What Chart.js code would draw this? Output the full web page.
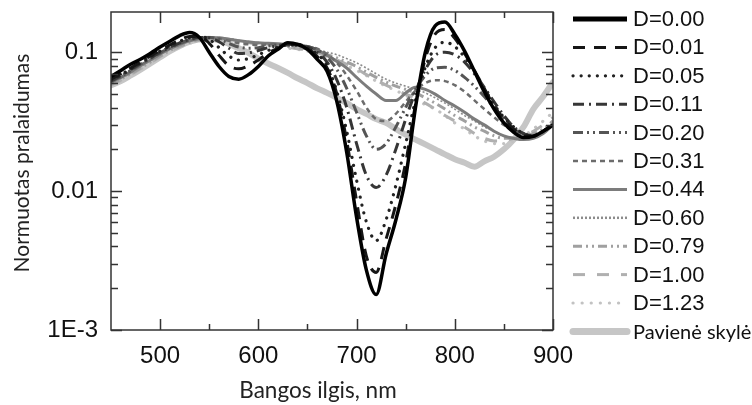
<!DOCTYPE html>
<html>
<head>
<meta charset="utf-8">
<script src="https://cdn.jsdelivr.net/npm/chart.js@4.4.1/dist/chart.umd.min.js"></script>
<style>
  html, body { margin: 0; padding: 0; background: #fff; }
</style>
</head>
<body>
<canvas id="chart" width="752" height="405"></canvas>
<script>
// --- data ---
const wavelengths = [450, 460, 470, 480, 490, 500, 510, 520, 530, 540, 550, 560, 570, 580, 590, 600,
  610, 620, 630, 640, 650, 660, 670, 680, 690, 700, 710, 720, 730, 740, 750, 760, 770, 780, 790, 800,
  810, 820, 830, 840, 850, 860, 870, 880, 890, 900];

const d000 = [.067, .074, .082, .089, .098, .109, .120, .132, .139, .128, .100, .079, .067, .064, .069, .079,
  .094, .105, .117, .114, .105, .089, .073, .044, .019, .0065, .0027, .0018, .0035, .0062, .0125, .040, .100, .155, .165, .135,
  .102, .073, .052, .039, .031, .0265, .0243, .0248, .027, .030];
const d001 = [.064, .070, .077, .085, .094, .103, .113, .123, .130, .130, .116, .095, .080, .076, .080, .088,
  .099, .107, .114, .114, .107, .093, .077, .050, .023, .0085, .0034, .0026, .0045, .0080, .016, .042, .090, .135, .146, .126,
  .098, .074, .055, .041, .033, .028, .025, .025, .027, .030];
const d005 = [.063, .069, .076, .084, .093, .102, .111, .120, .127, .130, .124, .108, .094, .088, .090, .096,
  .103, .109, .113, .113, .108, .097, .080, .052, .027, .012, .0060, .0044, .0062, .011, .022, .045, .078, .108, .118, .110,
  .092, .072, .055, .042, .034, .029, .026, .025, .027, .030];
const d011 = [.062, .068, .075, .083, .091, .100, .109, .117, .124, .128, .127, .119, .107, .098, .099, .103,
  .108, .111, .113, .112, .109, .100, .085, .063, .040, .022, .013, .0106, .013, .020, .033, .052, .075, .095, .100, .096,
  .085, .070, .056, .044, .035, .029, .026, .025, .027, .030];
const d020 = [.062, .067, .074, .082, .090, .099, .108, .116, .123, .127, .128, .124, .116, .109, .107, .108,
  .111, .113, .114, .113, .110, .104, .092, .075, .055, .037, .025, .020, .022, .029, .040, .054, .068, .077, .078, .074,
  .066, .057, .048, .040, .033, .028, .026, .025, .027, .030];
const d031 = [.061, .066, .073, .081, .089, .098, .107, .115, .122, .126, .128, .126, .121, .116, .114, .113,
  .114, .114, .114, .113, .110, .106, .097, .084, .068, .053, .040, .033, .032, .036, .044, .053, .060, .063, .062, .058,
  .052, .045, .039, .034, .030, .027, .025, .025, .027, .030];
const d044 = [.061, .066, .072, .080, .088, .097, .106, .114, .121, .125, .127, .127, .124, .121, .119, .117,
  .116, .115, .114, .112, .110, .104, .095, .086, .077, .066, .057, .050, .045, .045, .051, .056, .054, .050, .045, .041,
  .037, .033, .030, .027, .025, .024, .0235, .024, .026, .030];
const d060 = [.060, .065, .071, .079, .087, .096, .105, .113, .120, .125, .127, .127, .125, .122, .119, .117,
  .115, .114, .112, .110, .108, .104, .100, .096, .090, .084, .077, .070, .064, .060, .057, .054, .051, .047, .043, .039,
  .035, .032, .029, .027, .025, .024, .024, .025, .027, .031];
const d079 = [.059, .064, .070, .077, .085, .094, .103, .111, .118, .123, .126, .126, .124, .121, .118, .116,
  .114, .112, .110, .108, .106, .101, .096, .091, .085, .079, .072, .066, .061, .057, .054, .051, .047, .043, .039, .035,
  .032, .029, .027, .025, .024, .024, .025, .026, .028, .032];
const d100 = [.058, .063, .069, .076, .084, .093, .102, .110, .117, .122, .125, .125, .123, .120, .117, .115,
  .113, .111, .109, .106, .104, .099, .094, .088, .082, .076, .069, .063, .058, .054, .050, .047, .043, .039, .035, .032,
  .029, .026, .024, .023, .023, .024, .025, .027, .030, .034];
const d123 = [.057, .062, .068, .075, .083, .092, .101, .109, .116, .121, .124, .124, .122, .119, .116, .114,
  .112, .110, .107, .105, .102, .097, .092, .086, .080, .074, .068, .062, .057, .053, .049, .045, .042, .039, .035, .031,
  .028, .025, .023, .022, .022, .023, .025, .028, .032, .037];
const singleHole = [.058, .062, .068, .075, .083, .092, .102, .111, .119, .124, .125, .122, .115, .107, .099, .090,
  .083, .077, .071, .065, .060, .055, .051, .047, .043, .039, .036, .033, .031, .028, .0255, .0235, .0217, .020, .0184, .017,
  .016, .015, .0164, .0177, .020, .0235, .029, .039, .048, .061];

const seriesLabels = ["D=0.00", "D=0.01", "D=0.05", "D=0.11", "D=0.20", "D=0.31", "D=0.44",
  "D=0.60", "D=0.79", "D=1.00", "D=1.23", "Pavienė skylė"];
const seriesValues = [d000, d001, d005, d011, d020, d031, d044, d060, d079, d100, d123, singleHole];

const xMajorTicks = [500, 600, 700, 800, 900];
const xMinorTicks = [550, 650, 750, 850];
const yTickValues = [0.001, 0.01, 0.1];
const yTickLabels = ["1E-3", "0.01", "0.1"];

// --- line styles (grey ramp, dash patterns like the original legend) ---
const styles = [
  { color: "#000000", width: 3.5, dash: [], cap: "butt" },
  { color: "#161616", width: 3, dash: [12, 9], cap: "butt" },
  { color: "#222222", width: 3.2, dash: [0.1, 8], cap: "round" },
  { color: "#363636", width: 3, dash: [11, 5, 2, 5], cap: "butt" },
  { color: "#555555", width: 3, dash: [10, 4, 2, 4, 2, 4], cap: "butt" },
  { color: "#6c6c6c", width: 2.5, dash: [5, 4], cap: "butt" },
  { color: "#7c7c7c", width: 3, dash: [], cap: "butt" },
  { color: "#8c8c8c", width: 1.6, dash: [2, 2], cap: "butt" },
  { color: "#a0a0a0", width: 3, dash: [9, 4, 2, 4, 2, 4], cap: "butt" },
  { color: "#b0b0b0", width: 3, dash: [12, 12], cap: "butt" },
  { color: "#c2c2c2", width: 3.2, dash: [0.1, 9], cap: "round" },
  { color: "#c6c6c6", width: 6, dash: [], cap: "round" },
];

const datasets = seriesValues.map((vals, i) => ({
  label: seriesLabels[i],
  data: wavelengths.map((w, k) => ({ x: w, y: vals[k] })),
  borderColor: styles[i].color,
  borderWidth: styles[i].width,
  borderDash: styles[i].dash,
  borderCapStyle: styles[i].cap,
  pointRadius: 0,
  fill: false,
  cubicInterpolationMode: "monotone",
}));

// frame with inward ticks on all four sides
const frameTicks = {
  id: "frameTicks",
  afterDatasetsDraw(chart) {
    const { ctx, chartArea: a, scales } = chart;
    const x = scales.x, y = scales.y;
    ctx.save();
    ctx.strokeStyle = "#333";
    ctx.lineWidth = 1.5;
    ctx.strokeRect(a.left, a.top, a.right - a.left, a.bottom - a.top);
    ctx.beginPath();
    const xt = (v, len) => {
      const p = Math.round(x.getPixelForValue(v)) + 0.5;
      ctx.moveTo(p, a.bottom); ctx.lineTo(p, a.bottom - len);
      ctx.moveTo(p, a.top); ctx.lineTo(p, a.top + len);
    };
    xMajorTicks.forEach(v => xt(v, 11));
    xMinorTicks.forEach(v => xt(v, 6));
    const yt = (v, len) => {
      const p = Math.round(y.getPixelForValue(v)) + 0.5;
      if (p < a.top || p > a.bottom + 1) return;
      ctx.moveTo(a.left, p); ctx.lineTo(a.left + len, p);
      ctx.moveTo(a.right, p); ctx.lineTo(a.right - len, p);
    };
    yTickValues.forEach(v => {
      yt(v, 11);
      for (let k = 2; k <= 9; k++) yt(v * k, 7);
    });
    ctx.stroke();
    ctx.restore();
  },
  afterDraw(chart) {
    const { ctx } = chart;
    ctx.save();
    // axis titles
    ctx.fillStyle = "#222";
    ctx.textAlign = "center";
    ctx.textBaseline = "middle";
    ctx.font = "22.5px Lato, 'Open Sans', sans-serif";
    ctx.fillText("Bangos ilgis, nm", 318, 391);
    ctx.font = "21px Lato, 'Open Sans', sans-serif";
    ctx.translate(22, 163);
    ctx.rotate(-Math.PI / 2);
    ctx.fillText("Normuotas pralaidumas", 0, 0);
    ctx.restore();

    // legend on the right
    ctx.save();
    chart.data.datasets.forEach((ds, i) => {
      const yy = 19 + i * 28.4;
      ctx.strokeStyle = ds.borderColor;
      ctx.lineWidth = i === 0 ? 5 : (i === 11 ? 7 : Math.max(ds.borderWidth, 2.5));
      ctx.setLineDash(ds.borderDash);
      ctx.lineCap = ds.borderCapStyle;
      ctx.beginPath();
      ctx.moveTo(573, yy);
      ctx.lineTo(627, yy);
      ctx.stroke();
      ctx.fillStyle = "#111";
      ctx.textBaseline = "middle";
      ctx.textAlign = "left";
      ctx.font = i === 11 ? "20px Lato, sans-serif" : "22px 'Liberation Sans', Arial, sans-serif";
      ctx.fillText(ds.label, 633, yy + 1);
    });
    ctx.restore();
  },
};

new Chart(document.getElementById("chart"), {
  type: "line",
  data: { datasets },
  options: {
    responsive: false,
    devicePixelRatio: 1,
    animation: false,
    layout: { padding: { left: 0, top: 12, right: 199, bottom: 0 } },
    plugins: { legend: { display: false }, tooltip: { enabled: false } },
    scales: {
      x: {
        type: "linear",
        min: 450,
        max: 900,
        grid: { display: false, drawTicks: false },
        border: { display: false },
        afterBuildTicks: s => { s.ticks = xMajorTicks.map(v => ({ value: v })); },
        afterFit: s => { s.height = 75; s.paddingLeft = 0; s.paddingRight = 0; },
        ticks: { color: "#111", font: { family: "'Liberation Sans', Arial", size: 24 }, padding: 12, maxRotation: 0 },
      },
      y: {
        type: "logarithmic",
        min: 0.001,
        max: 0.195,
        grid: { display: false, drawTicks: false },
        border: { display: false },
        afterBuildTicks: s => { s.ticks = yTickValues.map(v => ({ value: v })); },
        afterFit: s => { s.width = 111; s.paddingTop = 0; s.paddingBottom = 0; },
        ticks: {
          color: "#111",
          font: { family: "'Liberation Sans', Arial", size: 24 },
          padding: 13,
          callback: v => yTickLabels[yTickValues.indexOf(v)] ?? "",
        },
      },
    },
  },
  plugins: [frameTicks],
});
</script>
</body>
</html>
